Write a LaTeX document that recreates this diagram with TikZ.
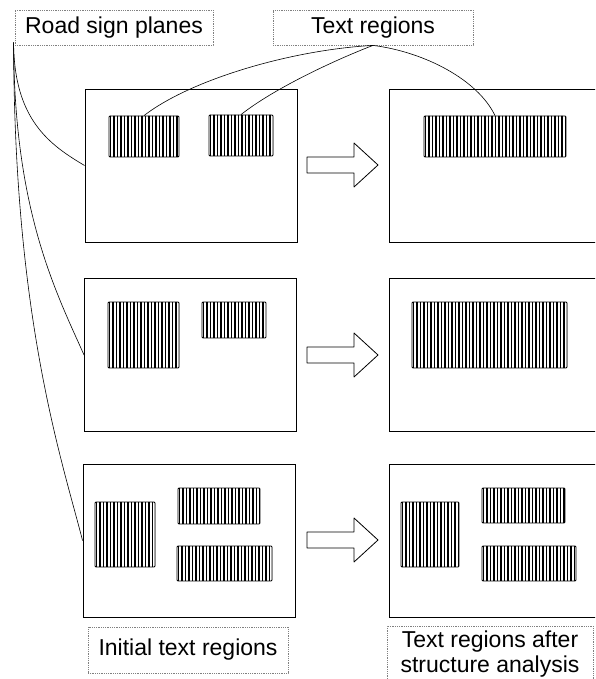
\documentclass[tikz,border=0pt]{standalone}
\usepackage{fontspec}
\setmainfont{Liberation Sans}
\usepackage{tikz}
\usetikzlibrary{arrows.meta, positioning, calc}

\begin{document}
\begin{tikzpicture}[
            x=1pt, y=-1pt,
            plane/.style={draw, line width=0.9pt, minimum width=212pt, minimum height=153pt, inner sep=0pt},
            textreg/.style={draw, line width=0.8pt, rounded corners=1pt, inner sep=0pt,
                path picture={
                    \foreach \i in {1.5,5,...,160}
                        \draw[line width=1.7pt] ($(path picture bounding box.south west)+(\i,0)$) -- ++(0,-80);
                }},
            caption/.style={draw=gray, densely dotted, line width=0.8pt, align=center, inner sep=0pt,
                font=\fontsize{23}{25}\selectfont},
            link/.style={line width=0.6pt},
            bigarrow/.style={draw, line width=0.8pt, line join=round}
        ]
            \clip (0,0) rectangle (595,679);

            % labels
            \node[caption, minimum width=198pt, minimum height=35pt] (rsp) at (114,27.5) {Road sign planes};
            \node[caption, minimum width=200pt, minimum height=35pt] (trg) at (373,27.5) {Text regions};
            \node[caption, minimum width=200pt, minimum height=46pt] (init) at (188,650) {Initial text regions};
            \node[caption, minimum width=206pt, minimum height=56pt] (after) at (490,654) {Text regions after\\structure analysis};

            % road sign planes
            \node[plane] (p1l) at (191,165.5) {};
            \node[plane] (p1r) at (495,166) {};
            \node[plane] (p2l) at (190.5,355) {};
            \node[plane] (p2r) at (495,355) {};
            \node[plane] (p3l) at (189,540.5) {};
            \node[plane] (p3r) at (495,540.5) {};

            % text regions
            \node[textreg, minimum width=70pt, minimum height=41pt] (a1) at (144,136.5) {};
            \node[textreg, minimum width=64pt, minimum height=41pt] (b1) at (241,135.5) {};
            \node[textreg, minimum width=142pt, minimum height=41pt] (c1) at (495,136.5) {};

            \node[textreg, minimum width=71pt, minimum height=66pt] (a2) at (143.5,335) {};
            \node[textreg, minimum width=64pt, minimum height=36pt] (b2) at (234,320) {};
            \node[textreg, minimum width=155pt, minimum height=66pt] (c2) at (489.5,335) {};

            \node[textreg, minimum width=60pt, minimum height=65pt] (a3) at (125,534.5) {};
            \node[textreg, minimum width=82pt, minimum height=36pt] (b3) at (219,506) {};
            \node[textreg, minimum width=95pt, minimum height=35pt] (d3) at (224.5,563.5) {};
            \node[textreg, minimum width=58pt, minimum height=65pt] (e3) at (430,534.5) {};
            \node[textreg, minimum width=83pt, minimum height=35pt] (f3) at (523.5,505.5) {};
            \node[textreg, minimum width=94pt, minimum height=35pt] (g3) at (529,563.5) {};

            % arrows
            \foreach \y in {165,355,540}
                \draw[bigarrow] (307,\y-8) -- (354,\y-8) -- (354,\y-22) -- (378,\y) -- (354,\y+22) -- (354,\y+8) -- (307,\y+8) -- cycle;

            % connectors
            \coordinate (rspfoot) at ($(rsp.south west)+(-1,-3)$);
            \draw[link] (rspfoot) .. controls (14,120) and (50,145) .. (p1l.west);
            \draw[link] (rspfoot) .. controls (14,210) and (55,290) .. (p2l.west);
            \draw[link] (rspfoot) .. controls (14,320) and (62,460) .. (p3l.west);

            \draw[link] (trg.south) .. controls (290,50) and (190,80) .. (a1.north);
            \draw[link] (trg.south) .. controls (330,62) and (272,90) .. (b1.north);
            \draw[link] (trg.south) .. controls (425,52) and (478,80) .. (c1.north);
        \end{tikzpicture}
\end{document}
